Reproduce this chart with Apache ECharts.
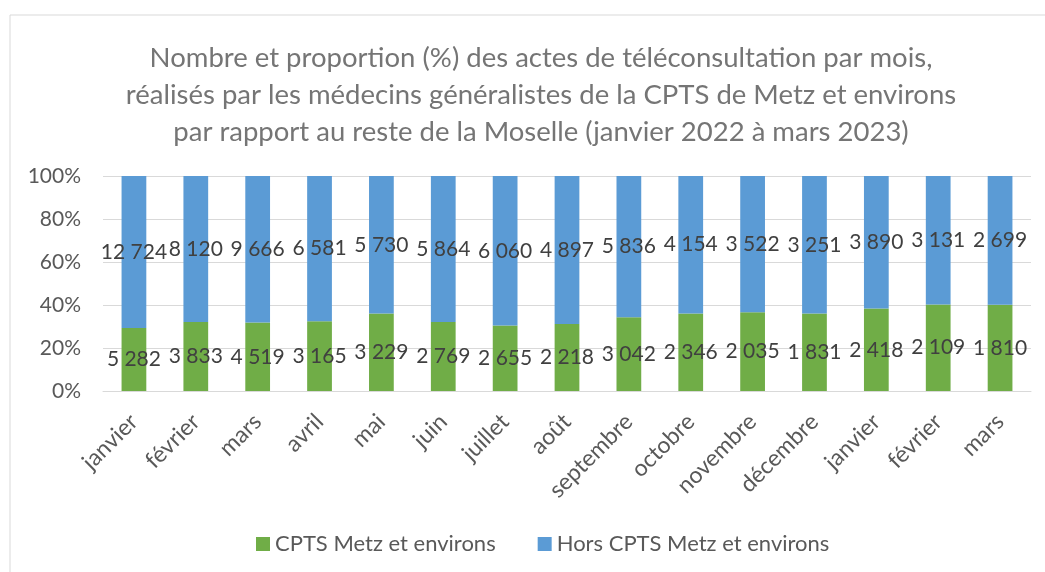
<!DOCTYPE html>
<html>
<head>
<meta charset="utf-8">
<script src="https://cdn.jsdelivr.net/npm/echarts@6/dist/echarts.min.js"></script>
<style>
html, body { margin: 0; padding: 0; background: #fff; }
#chart { width: 1045px; height: 572px; }
</style>
</head>
<body>
<div id="chart"></div>
<script>
// mois de janvier 2022 à mars 2023
var mois = ['janvier', 'février', 'mars', 'avril', 'mai', 'juin', 'juillet', 'août',
    'septembre', 'octobre', 'novembre', 'décembre', 'janvier', 'février', 'mars'];
// nombre d'actes de téléconsultation
var cpts = [5282, 3833, 4519, 3165, 3229, 2769, 2655, 2218, 3042, 2346, 2035, 1831, 2418, 2109, 1810];
var horsCpts = [12724, 8120, 9666, 6581, 5730, 5864, 6060, 4897, 5836, 4154, 3522, 3251, 3890, 3131, 2699];
var yTicks = [0, 20, 40, 60, 80, 100];

// 100% empilé : chaque série en part du total du mois
var cptsPct = cpts.map(function (v, i) { return v / (v + horsCpts[i]) * 100; });
var horsPct = horsCpts.map(function (v, i) { return v / (v + cpts[i]) * 100; });

function fmt(n) {
    return String(n).replace(/\B(?=(\d{3})+(?!\d))/g, ' ');
}

var font = 'Lato, "Open Sans", sans-serif';
var chart = echarts.init(document.getElementById('chart'));
chart.setOption({
    animation: false,
    textStyle: { fontFamily: font },
    graphic: [{
        type: 'rect',
        shape: { x: 10, y: 15, width: 1200, height: 700 },
        style: { fill: 'none', stroke: '#d9d9d9', lineWidth: 1 },
        silent: true
    }],
    title: {
        text: 'Nombre et proportion (%) des actes de téléconsultation par mois,\nréalisés par les médecins généralistes de la CPTS de Metz et environs\npar rapport au reste de la Moselle (janvier 2022 à mars 2023)',
        left: 536,
        top: 35,
        textAlign: 'center',
        textStyle: {
            fontFamily: font,
            fontSize: 27.5,
            fontWeight: 'normal',
            color: '#757575',
            lineHeight: 37
        }
    },
    legend: {
        data: ['CPTS Metz et environs', 'Hors CPTS Metz et environs'],
        left: 251,
        top: 528,
        icon: 'rect',
        itemWidth: 14,
        itemHeight: 14,
        itemGap: 42,
        textStyle: { fontFamily: font, fontSize: 22, color: '#595959' }
    },
    grid: { left: 103, right: 14, top: 176, bottom: 181, containLabel: false },
    xAxis: {
        type: 'category',
        data: mois,
        axisLine: { lineStyle: { color: '#d9d9d9', width: 1 } },
        axisTick: { show: false },
        axisLabel: {
            rotate: 45,
            interval: 0,
            fontSize: 23,
            color: '#595959',
            margin: 27
        }
    },
    yAxis: {
        type: 'value',
        min: yTicks[0],
        max: yTicks[yTicks.length - 1],
        interval: 20,
        axisLine: { show: false },
        axisTick: { show: false },
        splitLine: { lineStyle: { color: '#d9d9d9', width: 1 } },
        axisLabel: {
            formatter: '{value}%',
            fontSize: 21,
            color: '#595959',
            margin: 22
        }
    },
    series: [
        {
            name: 'CPTS Metz et environs',
            type: 'bar',
            stack: 'total',
            barWidth: '40%',
            itemStyle: { color: '#70AD47' },
            data: cptsPct,
            label: {
                show: true,
                position: 'inside',
                color: '#404040',
                fontSize: 21,
                formatter: function (p) { return fmt(cpts[p.dataIndex]); }
            }
        },
        {
            name: 'Hors CPTS Metz et environs',
            type: 'bar',
            stack: 'total',
            barWidth: '40%',
            itemStyle: { color: '#5B9BD5' },
            data: horsPct,
            label: {
                show: true,
                position: 'inside',
                color: '#404040',
                fontSize: 21,
                formatter: function (p) { return fmt(horsCpts[p.dataIndex]); }
            }
        }
    ]
});
</script>
</body>
</html>
